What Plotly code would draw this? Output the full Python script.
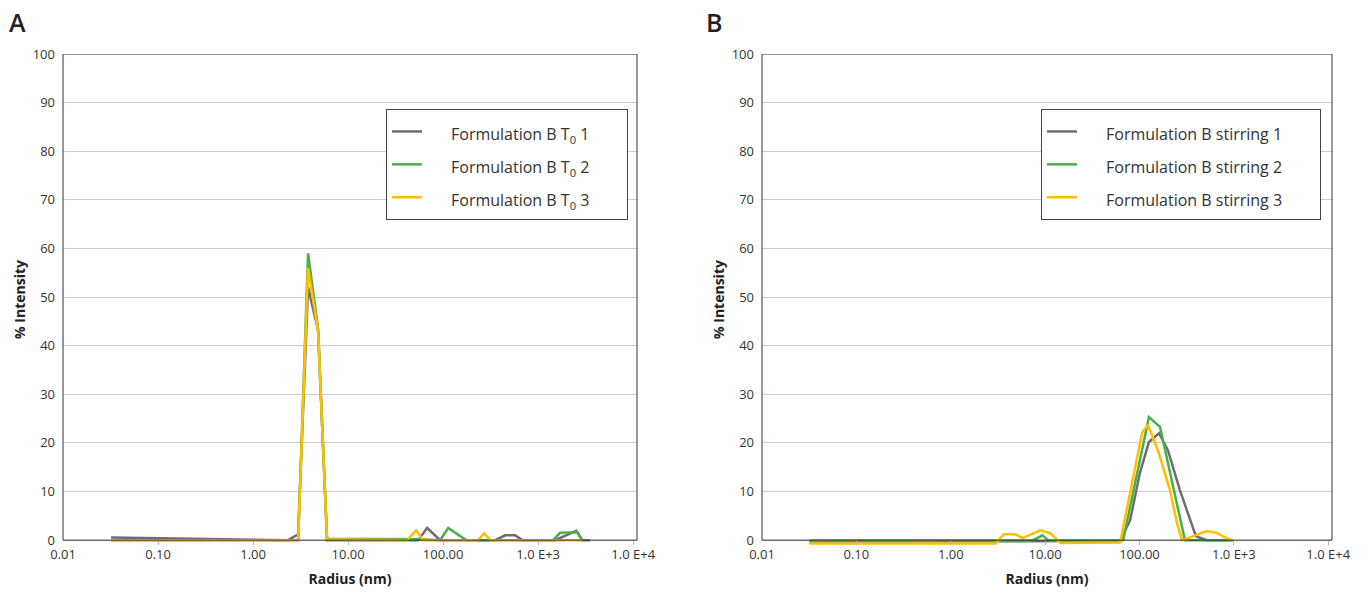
import plotly.graph_objects as go

# ---- Panel A: Formulation B at T0 (radius in nm, % intensity) ----
a1_r = [0.032, 2.33, 2.98, 3.79, 4.83, 6.0, 54.6, 67.9, 93, 353, 450, 573, 679, 1510, 2513, 2907, 3525]
a1_y = [0.55, 0.0, 1.2, 52.0, 43.2, 0.0, 0.0, 2.5, 0.0, 0.0, 1.0, 1.0, 0.0, 0.0, 1.9, 0.0, 0.0]

a2_r = [0.032, 2.98, 3.79, 4.83, 6.0, 54.6, 93, 113, 175, 1438, 1700, 2300, 2600, 2907]
a2_y = [0.0, 0.0, 59.0, 43.5, 0.3, 0.2, 0.0, 2.5, 0.0, 0.0, 1.5, 1.5, 1.6, 0.0]

a3_r = [0.032, 2.98, 3.79, 4.83, 6.0, 41.8, 52, 61.6, 233, 270, 313, 2907]
a3_y = [0.0, 0.0, 56.0, 43.0, 0.2, 0.0, 2.0, 0.0, 0.0, 1.4, 0.0, 0.0]

# ---- Panel B: Formulation B after stirring ----
b1_r = [0.0317, 62.4, 79.6, 101, 126, 161, 200, 268, 396, 518, 973]
b1_y = [-0.3, -0.2, 4.1, 13.8, 20.2, 22.0, 18.5, 10.3, 0.8, 0.0, 0.0]

b2_r = [0.0317, 7.34, 9.36, 10.8, 67.1, 126, 165, 303, 973]
b2_y = [-0.1, -0.1, 1.0, -0.1, 0.0, 25.3, 23.3, 0.0, 0.0]

b3_r = [0.0317, 2.99, 3.63, 4.86, 5.75, 7.34, 8.92, 11.4, 13.5, 14.5, 62.4, 107, 123,
        157, 210, 250, 282, 318, 518, 660, 841, 973]
b3_y = [-0.7, -0.7, 1.2, 1.2, 0.4, 1.2, 2.0, 1.4, 0.0, -0.6, -0.5, 22.2, 23.7,
        18.5, 10.3, 3.5, 0.0, 0.3, 1.85, 1.5, 0.35, 0.0]

names_a = ["Formulation B T<sub>0</sub> 1", "Formulation B T<sub>0</sub> 2", "Formulation B T<sub>0</sub> 3"]
names_b = ["Formulation B stirring 1", "Formulation B stirring 2", "Formulation B stirring 3"]

x_tickvals = [0.01, 0.1, 1, 10, 100, 1000, 10000]
x_ticktext = ["0.01", "0.10", "1.00", "10.00", "100.00", "1.0 E+3", "1.0 E+4"]
y_tickvals = list(range(0, 101, 10))

colors = ["#6d6e72", "#4caf46", "#ffbf00"]
FONT = "Open Sans"


def label(text):
    # smaller visible text inside a taller legend row, padded on both sides
    return f"<span style='font-size:16px'>\u2003\u2002{text}\u2003\u2003</span>"


fig = go.Figure()
for r, y, n, c in zip([a1_r, a2_r, a3_r], [a1_y, a2_y, a3_y], names_a, colors):
    fig.add_trace(go.Scatter(x=r, y=y, mode="lines", name=label(n),
                             line=dict(color=c, width=2.5), xaxis="x", yaxis="y",
                             legend="legend"))
for r, y, n, c in zip([b1_r, b2_r, b3_r], [b1_y, b2_y, b3_y], names_b, colors):
    fig.add_trace(go.Scatter(x=r, y=y, mode="lines", name=label(n),
                             line=dict(color=c, width=2.5), xaxis="x2", yaxis="y2",
                             legend="legend2"))

W, H = 1365, 594
ydom = [1 - 545 / H, 1 - 54 / H]

xcommon = dict(type="log", range=[-2, 4.04], tickvals=x_tickvals, ticktext=x_ticktext,
               ticks="inside", ticklen=5, tickcolor="#b5b5b5", tickwidth=1,
               showgrid=False, zeroline=False, showline=False, automargin=False,
               tickfont=dict(family=FONT, size=13, color="#333"),
               title=dict(text="<b>Radius (nm)</b>", font=dict(family=FONT, size=14, color="#222"),
                          standoff=12))
ycommon = dict(range=[-1, 100], tickvals=y_tickvals, showgrid=True, gridcolor="#cdcdcd",
               gridwidth=1, zeroline=False, showline=False, ticks="", automargin=False,
               ticklabelstandoff=7,
               tickfont=dict(family=FONT, size=13, color="#333"),
               title=dict(text="<b>% Intensity</b>", font=dict(family=FONT, size=14, color="#222"),
                          standoff=3))

legcommon = dict(bgcolor="white", bordercolor="#444", borderwidth=1,
                 font=dict(family=FONT, size=23, color="#333"),
                 xanchor="left", yanchor="top", yref="paper", xref="paper")

fig.update_layout(
    width=W, height=H,
    margin=dict(l=0, r=0, t=0, b=0, autoexpand=False),
    plot_bgcolor="white", paper_bgcolor="white",
    font=dict(family=FONT, color="#333"),
    xaxis=dict(domain=[63 / W, 637 / W], anchor="y", **xcommon),
    yaxis=dict(domain=ydom, anchor="x", **ycommon),
    xaxis2=dict(domain=[762 / W, 1332 / W], anchor="y2", **xcommon),
    yaxis2=dict(domain=ydom, anchor="x2", **ycommon),
    legend=dict(x=386 / W, y=1 - 109 / H, **legcommon),
    legend2=dict(x=1041 / W, y=1 - 109 / H, **legcommon),
    showlegend=True,
    annotations=[
        dict(text="A", x=7 / W, y=1 - 3 / H, xref="paper", yref="paper", xanchor="left",
             yanchor="top", showarrow=False,
             font=dict(family=FONT, size=25, color="#222", weight=600)),
        dict(text="B", x=704 / W, y=1 - 3 / H, xref="paper", yref="paper", xanchor="left",
             yanchor="top", showarrow=False,
             font=dict(family=FONT, size=25, color="#222", weight=600)),
    ],
    shapes=[
        dict(type="rect", xref="x domain", yref="y", x0=0, x1=1, y0=0, y1=100,
             line=dict(color="#333", width=1), layer="above"),
        dict(type="rect", xref="x2 domain", yref="y2", x0=0, x1=1, y0=0, y1=100,
             line=dict(color="#333", width=1), layer="above"),
    ],
)

fig.write_html("out.html")
